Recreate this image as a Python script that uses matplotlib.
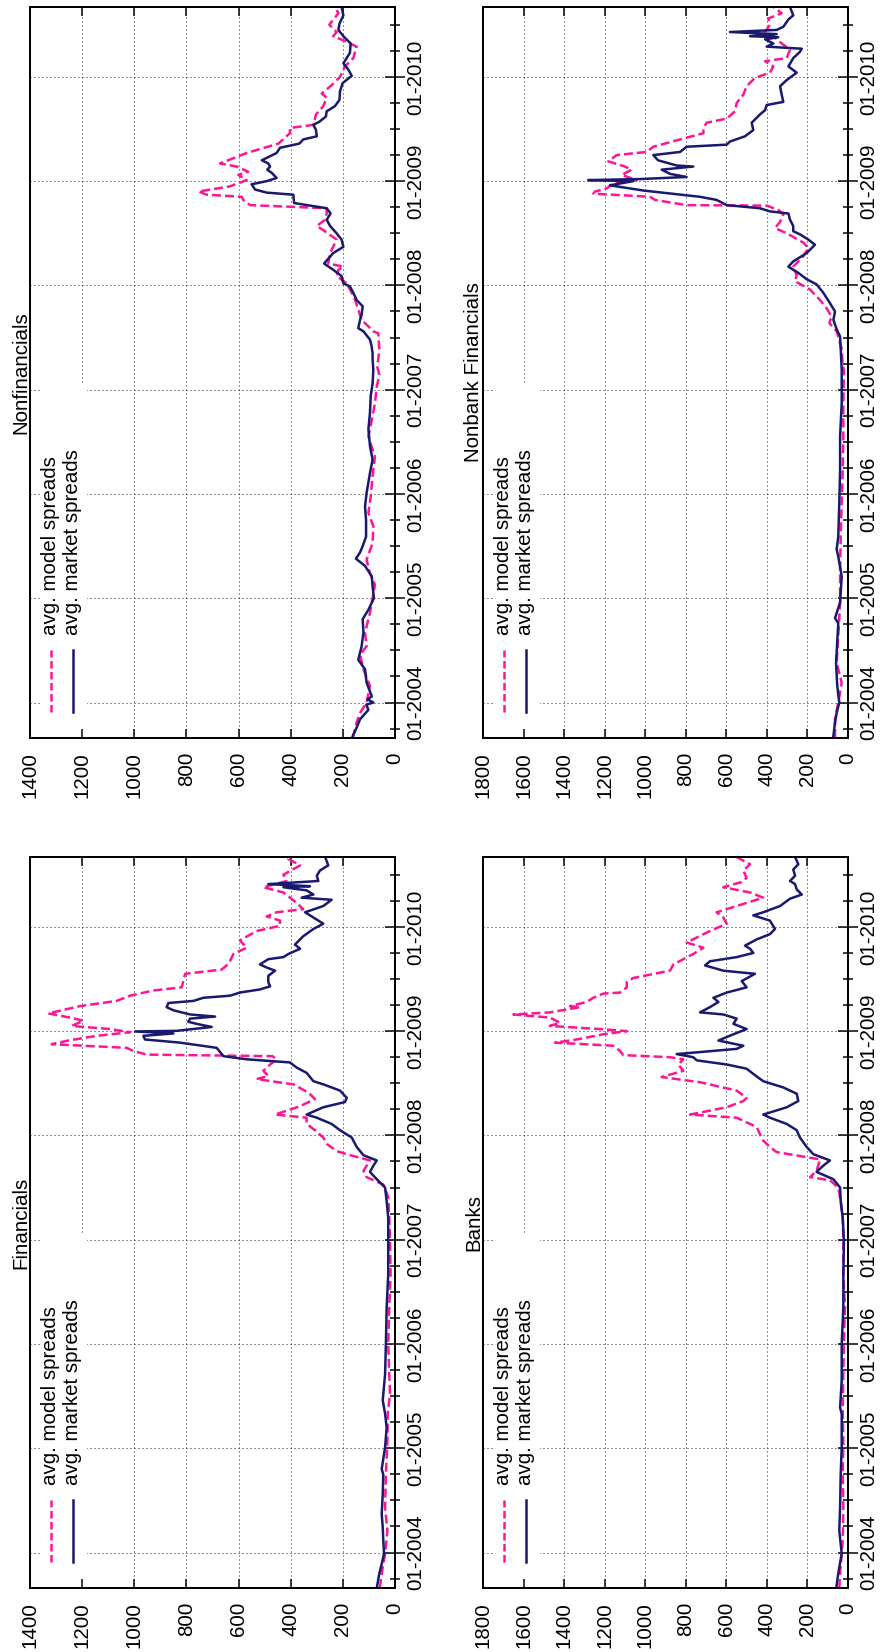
"""
Average model vs. market spreads, four sectors.
The page is laid out turned on its side: dates run up the right edge,
spreads run right-to-left along the bottom.
"""
import numpy as np
import matplotlib.pyplot as plt
from matplotlib.patches import Rectangle

plt.rcParams['font.family'] = ['Liberation Sans', 'DejaVu Sans']

MODEL_COLOR = '#ff1493'  # deep pink, dashed
MARKET_COLOR = '#191970'  # midnight blue, solid
FONT_SIZE = 20.5

W, H, DPI = 881, 1652, 72

years = [2004, 2005, 2006, 2007, 2008, 2009, 2010]
year_labels = ['01-2004', '01-2005', '01-2006', '01-2007', '01-2008', '01-2009', '01-2010']
date_range = [2003.66, 2010.67]

# (decimal year, spread) pairs
nonfin_model = [
    (2003.66, 162), (2003.68, 160), (2003.81, 147), (2003.90, 134), (2004.00, 109), (2004.16, 96),
    (2004.32, 121), (2004.46, 134), (2004.54, 109), (2004.67, 115), (2004.86, 96), (2005.00, 86),
    (2005.13, 77), (2005.24, 96), (2005.37, 109), (2005.53, 86), (2005.69, 83), (2005.82, 102),
    (2005.98, 93), (2006.17, 86), (2006.36, 77), (2006.55, 102), (2006.71, 89), (2006.87, 77),
    (2007.03, 70), (2007.14, 60), (2007.22, 68), (2007.38, 60), (2007.54, 64), (2007.56, 83),
    (2007.67, 128), (2007.86, 153), (2007.93, 166), (2008.02, 185), (2008.09, 224), (2008.15, 217),
    (2008.18, 198), (2008.21, 256), (2008.31, 249), (2008.44, 224), (2008.53, 275), (2008.57, 300),
    (2008.63, 268), (2008.69, 262), (2008.74, 262), (2008.77, 556), (2008.82, 582), (2008.85, 588),
    (2008.87, 722), (2008.90, 754), (2008.95, 633), (2009.01, 569), (2009.06, 601), (2009.09, 563),
    (2009.14, 607), (2009.17, 671), (2009.27, 569), (2009.36, 447), (2009.46, 403), (2009.51, 403),
    (2009.54, 313), (2009.64, 303), (2009.72, 275), (2009.80, 262), (2009.84, 281), (2009.92, 243),
    (2010.00, 211), (2010.10, 192), (2010.18, 160), (2010.29, 147), (2010.35, 198), (2010.39, 237),
    (2010.43, 224), (2010.50, 252), (2010.61, 217), (2010.67, 230),
]
nonfin_market = [
    (2003.66, 165), (2003.68, 162), (2003.76, 147), (2003.84, 134), (2003.93, 102), (2003.98, 110),
    (2004.00, 83), (2004.03, 105), (2004.06, 89), (2004.19, 109), (2004.32, 115), (2004.41, 141),
    (2004.54, 128), (2004.67, 121), (2004.80, 124), (2004.89, 102), (2005.00, 81), (2005.12, 86),
    (2005.21, 89), (2005.31, 115), (2005.38, 150), (2005.44, 134), (2005.50, 124), (2005.59, 111),
    (2005.75, 111), (2005.88, 115), (2006.01, 109), (2006.20, 96), (2006.33, 86), (2006.46, 96),
    (2006.62, 102), (2006.78, 96), (2006.94, 93), (2007.06, 86), (2007.19, 83), (2007.29, 86),
    (2007.35, 86), (2007.42, 90), (2007.48, 96), (2007.56, 121), (2007.59, 141), (2007.67, 134),
    (2007.72, 128), (2007.80, 124), (2007.86, 147), (2007.93, 160), (2007.99, 173), (2008.02, 198),
    (2008.09, 205), (2008.15, 237), (2008.21, 272), (2008.31, 237), (2008.37, 198), (2008.44, 205),
    (2008.50, 224), (2008.57, 249), (2008.63, 262), (2008.69, 247), (2008.74, 262), (2008.79, 387),
    (2008.87, 390), (2008.89, 492), (2008.92, 537), (2008.97, 550), (2009.00, 492), (2009.03, 454),
    (2009.08, 473), (2009.11, 490), (2009.14, 479), (2009.17, 486), (2009.20, 511), (2009.27, 454),
    (2009.32, 441), (2009.36, 367), (2009.40, 352), (2009.43, 300), (2009.49, 303), (2009.54, 313),
    (2009.57, 290), (2009.62, 265), (2009.67, 262), (2009.72, 230), (2009.78, 213), (2009.86, 211),
    (2009.94, 201), (2010.01, 166), (2010.07, 179), (2010.13, 198), (2010.23, 173), (2010.32, 170),
    (2010.39, 198), (2010.45, 217), (2010.51, 213), (2010.59, 198), (2010.67, 205),
]

nonbank_model = [
    (2003.66, 64), (2003.84, 64), (2004.00, 48), (2004.19, 31), (2004.38, 56), (2004.64, 48),
    (2004.96, 39), (2005.27, 39), (2005.59, 36), (2005.91, 31), (2006.23, 26), (2006.55, 23),
    (2006.87, 23), (2007.19, 20), (2007.23, 26), (2007.39, 31), (2007.56, 56), (2007.64, 92),
    (2007.70, 81), (2007.78, 105), (2007.86, 138), (2007.96, 187), (2008.04, 261), (2008.10, 253),
    (2008.18, 270), (2008.28, 220), (2008.36, 196), (2008.41, 220), (2008.50, 302), (2008.55, 360),
    (2008.61, 335), (2008.68, 319), (2008.72, 340), (2008.765, 400), (2008.77, 796), (2008.82, 952),
    (2008.85, 976), (2008.88, 1256), (2008.90, 1248), (2008.93, 1190), (2008.98, 1157), (2009.01, 1042),
    (2009.06, 1116), (2009.11, 1067), (2009.14, 1100), (2009.19, 1182), (2009.25, 1141), (2009.28, 993),
    (2009.33, 960), (2009.40, 828), (2009.46, 713), (2009.51, 713), (2009.56, 697), (2009.60, 598),
    (2009.67, 557), (2009.75, 549), (2009.83, 516), (2009.91, 500), (2009.99, 459), (2010.04, 385),
    (2010.10, 368), (2010.15, 409), (2010.18, 302), (2010.26, 286), (2010.32, 327), (2010.39, 368),
    (2010.43, 409), (2010.50, 385), (2010.56, 393), (2010.61, 327), (2010.67, 368),
]
nonbank_market = [
    (2003.66, 75), (2003.68, 72), (2003.81, 64), (2003.90, 56), (2004.00, 43), (2004.16, 53),
    (2004.38, 59), (2004.48, 56), (2004.76, 48), (2004.81, 64), (2004.96, 39), (2005.21, 31),
    (2005.40, 48), (2005.47, 56), (2005.59, 48), (2005.91, 43), (2006.23, 39), (2006.55, 39),
    (2006.87, 31), (2007.19, 31), (2007.39, 36), (2007.51, 39), (2007.58, 56), (2007.67, 72),
    (2007.75, 64), (2007.83, 89), (2007.93, 122), (2008.01, 155), (2008.06, 204), (2008.12, 245),
    (2008.18, 294), (2008.23, 270), (2008.31, 204), (2008.39, 163), (2008.44, 196), (2008.49, 237),
    (2008.52, 270), (2008.57, 270), (2008.63, 286), (2008.69, 294), (2008.71, 385), (2008.74, 434),
    (2008.77, 598), (2008.82, 648), (2008.85, 730), (2008.91, 1009), (2008.96, 1174), (2009.00, 1059),
    (2009.01, 1281), (2009.02, 1026), (2009.04, 796), (2009.07, 878), (2009.11, 919), (2009.14, 763),
    (2009.15, 845), (2009.20, 937), (2009.25, 960), (2009.28, 828), (2009.33, 796), (2009.35, 598),
    (2009.38, 582), (2009.43, 508), (2009.49, 467), (2009.56, 475), (2009.64, 434), (2009.68, 409),
    (2009.73, 401), (2009.76, 319), (2009.83, 327), (2009.91, 335), (2009.97, 302), (2010.04, 253),
    (2010.10, 294), (2010.18, 270), (2010.24, 237), (2010.27, 228), (2010.29, 401), (2010.32, 368),
    (2010.36, 409), (2010.38, 344), (2010.39, 483), (2010.41, 352), (2010.43, 582), (2010.45, 352),
    (2010.48, 319), (2010.55, 294), (2010.59, 270), (2010.67, 286),
]

fin_model = [
    (2003.66, 58), (2003.80, 51), (2003.99, 38), (2004.21, 29), (2004.43, 38), (2004.75, 35),
    (2005.07, 29), (2005.33, 28), (2005.52, 19), (2005.71, 22), (2006.00, 26), (2006.35, 22),
    (2006.67, 17), (2006.99, 19), (2007.21, 22), (2007.41, 26), (2007.53, 45), (2007.60, 109),
    (2007.66, 121), (2007.76, 96), (2007.82, 185), (2007.85, 224), (2007.92, 262), (2007.98, 275),
    (2008.05, 307), (2008.11, 339), (2008.17, 339), (2008.20, 460), (2008.28, 364), (2008.35, 307),
    (2008.41, 332), (2008.49, 390), (2008.54, 531), (2008.57, 486), (2008.62, 505), (2008.68, 479),
    (2008.73, 454), (2008.76, 470), (2008.775, 952), (2008.81, 1004), (2008.84, 1029), (2008.875, 1317),
    (2008.91, 1253), (2008.955, 1144), (2008.99, 1016), (2009.02, 1093), (2009.05, 1240), (2009.10, 1195),
    (2009.13, 1247), (2009.17, 1330), (2009.24, 1208), (2009.29, 1068), (2009.34, 1016), (2009.39, 927),
    (2009.42, 818), (2009.48, 812), (2009.55, 805), (2009.59, 665), (2009.63, 646), (2009.67, 633),
    (2009.74, 620), (2009.80, 569), (2009.87, 595), (2009.96, 531), (2010.01, 441), (2010.06, 441),
    (2010.10, 492), (2010.14, 454), (2010.17, 352), (2010.23, 377), (2010.33, 428), (2010.38, 505),
    (2010.44, 416), (2010.50, 428), (2010.59, 364), (2010.65, 409), (2010.67, 400),
]
fin_market = [
    (2003.66, 70), (2003.80, 60), (2003.89, 51), (2003.99, 42), (2004.12, 45), (2004.24, 47),
    (2004.37, 51), (2004.56, 47), (2004.75, 45), (2004.80, 51), (2005.01, 38), (2005.20, 32),
    (2005.33, 38), (2005.46, 47), (2005.71, 38), (2006.00, 35), (2006.35, 32), (2006.67, 26),
    (2007.21, 26), (2007.37, 32), (2007.50, 38), (2007.58, 70), (2007.65, 96), (2007.71, 83),
    (2007.76, 70), (2007.81, 121), (2007.89, 147), (2007.98, 166), (2008.05, 211), (2008.11, 243),
    (2008.17, 300), (2008.20, 339), (2008.27, 275), (2008.32, 192), (2008.36, 185), (2008.43, 211),
    (2008.49, 275), (2008.52, 313), (2008.60, 339), (2008.65, 377), (2008.70, 403), (2008.73, 569),
    (2008.76, 658), (2008.80, 671), (2008.84, 684), (2008.89, 825), (2008.92, 959), (2008.955, 965),
    (2008.978, 850), (2008.997, 997), (2009.003, 837), (2009.04, 703), (2009.07, 761), (2009.09, 793),
    (2009.12, 786), (2009.14, 690), (2009.16, 786), (2009.20, 850), (2009.23, 876), (2009.27, 869),
    (2009.29, 773), (2009.32, 735), (2009.34, 633), (2009.37, 595), (2009.40, 518), (2009.43, 479),
    (2009.47, 486), (2009.53, 486), (2009.58, 460), (2009.61, 492), (2009.64, 518), (2009.69, 486),
    (2009.71, 428), (2009.74, 409), (2009.79, 364), (2009.83, 384), (2009.91, 352), (2009.98, 313),
    (2010.03, 275), (2010.09, 313), (2010.14, 345), (2010.20, 275), (2010.26, 243), (2010.28, 358),
    (2010.31, 313), (2010.35, 339), (2010.38, 428), (2010.39, 326), (2010.41, 486), (2010.44, 294),
    (2010.49, 300), (2010.54, 288), (2010.59, 256), (2010.67, 268),
]

banks_model = [
    (2003.66, 43), (2003.80, 39), (2004.12, 26), (2004.43, 23), (2004.75, 26), (2005.07, 23),
    (2005.39, 26), (2005.71, 23), (2006.03, 20), (2006.35, 15), (2006.67, 23), (2006.99, 23),
    (2007.21, 26), (2007.37, 36), (2007.50, 48), (2007.57, 89), (2007.60, 187), (2007.66, 155),
    (2007.77, 138), (2007.84, 352), (2007.89, 385), (2007.95, 418), (2008.01, 434), (2008.08, 450),
    (2008.17, 549), (2008.20, 779), (2008.27, 598), (2008.33, 516), (2008.36, 500), (2008.43, 549),
    (2008.51, 730), (2008.56, 919), (2008.62, 812), (2008.68, 837), (2008.73, 812), (2008.75, 878),
    (2008.77, 1108), (2008.81, 1124), (2008.86, 1157), (2008.89, 1445), (2008.92, 1338), (2008.97, 1207),
    (2009.00, 1091), (2009.02, 1223), (2009.05, 1470), (2009.08, 1420), (2009.13, 1470), (2009.16, 1650),
    (2009.18, 1470), (2009.23, 1322), (2009.24, 1371), (2009.28, 1289), (2009.32, 1256), (2009.36, 1207),
    (2009.37, 1124), (2009.42, 1091), (2009.47, 1091), (2009.51, 1059), (2009.58, 878), (2009.64, 861),
    (2009.74, 763), (2009.80, 713), (2009.85, 796), (2009.96, 681), (2010.03, 598), (2010.09, 615),
    (2010.14, 648), (2010.22, 516), (2010.28, 418), (2010.33, 483), (2010.38, 615), (2010.43, 524),
    (2010.47, 500), (2010.54, 516), (2010.60, 483), (2010.67, 549),
]
banks_market = [
    (2003.66, 58), (2003.80, 48), (2003.99, 31), (2004.08, 36), (2004.21, 43), (2004.43, 39),
    (2004.75, 36), (2005.01, 31), (2005.33, 31), (2005.39, 39), (2005.65, 31), (2006.00, 31),
    (2006.35, 23), (2006.67, 23), (2006.99, 20), (2007.21, 26), (2007.37, 36), (2007.50, 39),
    (2007.58, 72), (2007.65, 155), (2007.71, 122), (2007.76, 89), (2007.82, 171), (2007.89, 204),
    (2007.98, 237), (2008.05, 253), (2008.11, 302), (2008.17, 385), (2008.20, 418), (2008.27, 302),
    (2008.33, 245), (2008.40, 253), (2008.46, 319), (2008.52, 418), (2008.59, 467), (2008.64, 500),
    (2008.68, 598), (2008.72, 746), (2008.75, 763), (2008.78, 845), (2008.83, 549), (2008.86, 516),
    (2008.91, 639), (2008.97, 565), (2009.02, 500), (2009.07, 565), (2009.12, 549), (2009.16, 615),
    (2009.18, 730), (2009.23, 681), (2009.28, 639), (2009.32, 664), (2009.37, 598), (2009.42, 500),
    (2009.48, 524), (2009.55, 459), (2009.58, 615), (2009.63, 705), (2009.67, 681), (2009.71, 549),
    (2009.75, 467), (2009.79, 483), (2009.82, 508), (2009.88, 450), (2009.93, 385), (2009.98, 360),
    (2010.06, 385), (2010.11, 467), (2010.14, 418), (2010.20, 335), (2010.27, 286), (2010.31, 228),
    (2010.36, 253), (2010.41, 261), (2010.44, 286), (2010.49, 261), (2010.55, 270), (2010.60, 245),
    (2010.67, 261),
]

# title, model, market, top of the spread scale, axes box in pixels (left, top, right, bottom)
panels = [
    ('Nonfinancials', nonfin_model, nonfin_market, 1400, (30, 7, 395, 738)),
    ('Nonbank Financials', nonbank_model, nonbank_market, 1800, (483, 7, 848, 738)),
    ('Financials', fin_model, fin_market, 1400, (30, 857, 395, 1588)),
    ('Banks', banks_model, banks_market, 1800, (483, 857, 848, 1588)),
]


def draw_panel(ax, title, model, market, vmax):
    model = np.array(model)
    market = np.array(market)
    value_ticks = list(range(0, vmax + 1, 200))
    quarter_ticks = [y + q for y in range(2003, 2011) for q in (0.25, 0.5, 0.75)
                     if date_range[0] < y + q < date_range[1]]

    # dotted grid, kept under the white key box
    for v in value_ticks[1:-1]:
        ax.axvline(v, color='#222222', lw=1.0, ls=(0, (1, 3)), zorder=0.5)
    for y in years:
        ax.axhline(y, color='#222222', lw=1.0, ls=(0, (1, 3)), zorder=0.5)
    ax.add_patch(Rectangle((0.027, 0.0), 0.129, 0.483, transform=ax.transAxes,
                           facecolor='white', edgecolor='none', zorder=1))

    ax.plot(model[:, 1], model[:, 0], color=MODEL_COLOR, lw=2.5, dashes=(3.6, 1.6), zorder=2)
    ax.plot(market[:, 1], market[:, 0], color=MARKET_COLOR, lw=2.5, zorder=2.1)

    ax.set_xlim(vmax, 0)
    ax.set_ylim(date_range)
    ax.set_xticks(value_ticks)
    ax.set_xticklabels([str(v) for v in value_ticks])
    ax.set_yticks(years)
    ax.set_yticklabels(year_labels)
    ax.set_yticks(quarter_ticks, minor=True)

    ax.tick_params(axis='x', which='major', direction='in', length=9, width=1.5, top=True, bottom=True,
                   labelsize=FONT_SIZE, labelrotation=90, pad=14)
    ax.tick_params(axis='y', which='major', direction='inout', length=20, width=1.5, left=False, right=True,
                   labelleft=False, labelright=True, labelsize=FONT_SIZE, labelrotation=90, pad=1)
    ax.tick_params(axis='y', which='minor', direction='inout', length=10, width=1.5, left=False, right=True)
    for lbl in ax.get_yticklabels():
        lbl.set_verticalalignment('center')
    for s in ax.spines.values():
        s.set_linewidth(2)

    ax.text(0.0, 0.5, title, transform=ax.transAxes, rotation=90, ha='right', va='center',
            fontsize=FONT_SIZE)

    # key in the lower left corner (top left of the turned page)
    for x, color, dash, label in [(0.0575, MODEL_COLOR, (3.0, 1.4), 'avg. model spreads'),
                                  (0.1178, MARKET_COLOR, None, 'avg. market spreads')]:
        line, = ax.plot([x, x], [0.0356, 0.1204], transform=ax.transAxes, color=color, lw=2.5,
                        zorder=3, clip_on=False)
        if dash:
            line.set_dashes(dash)
        ax.text(x, 0.1409, label, transform=ax.transAxes, rotation=90, ha='center', va='bottom',
                fontsize=FONT_SIZE, zorder=3)


fig = plt.figure(figsize=(W / DPI, H / DPI), dpi=DPI)
for title, model, market, vmax, (x0, y0, x1, y1) in panels:
    ax = fig.add_axes([x0 / W, 1 - y1 / H, (x1 - x0) / W, (y1 - y0) / H])
    draw_panel(ax, title, model, market, vmax)

fig.savefig('out.png', dpi=DPI)
